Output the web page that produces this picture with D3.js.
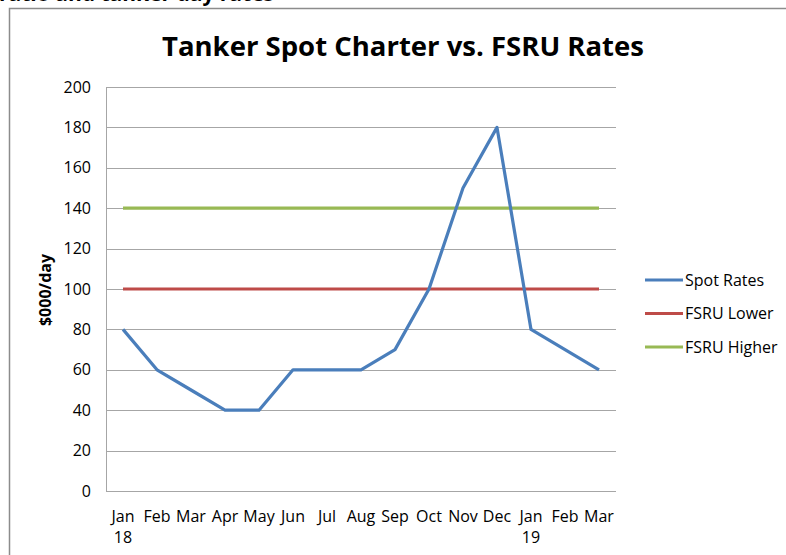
<!DOCTYPE html>
<html>
<head>
<meta charset="utf-8">
<script src="https://cdn.jsdelivr.net/npm/d3@7"></script>
<style>
  body { margin: 0; background: #fff; }
  svg { display: block; font-family: "Open Sans", sans-serif; }
</style>
</head>
<body>
<script>
var WIDTH = 786;
var HEIGHT = 555;

var months = ["Jan", "Feb", "Mar", "Apr", "May", "Jun", "Jul", "Aug", "Sep", "Oct", "Nov", "Dec", "Jan", "Feb", "Mar"];
var years = ["18", "", "", "", "", "", "", "", "", "", "", "", "19", "", ""];
var spotRates = [80, 60, 50, 40, 40, 60, 60, 60, 70, 100, 150, 180, 80, 70, 60];
var fsruLower = [100, 100, 100, 100, 100, 100, 100, 100, 100, 100, 100, 100, 100, 100, 100];
var fsruHigher = [140, 140, 140, 140, 140, 140, 140, 140, 140, 140, 140, 140, 140, 140, 140];
var yTicks = [0, 20, 40, 60, 80, 100, 120, 140, 160, 180, 200];

var series = [
  {name: "Spot Rates", values: spotRates, color: "#4a7ebb"},
  {name: "FSRU Lower", values: fsruLower, color: "#be4b48"},
  {name: "FSRU Higher", values: fsruHigher, color: "#98b954"}
];

var svg = d3.select("body")
  .append("svg")
  .attr("width", WIDTH)
  .attr("height", HEIGHT);

// caption above the frame, mostly cut off
svg.append("text")
  .attr("x", 274)
  .attr("y", 1)
  .attr("text-anchor", "end")
  .style("font-size", "21px")
  .style("font-weight", "bold")
  .text("FSRU lease ratio and tanker day rates");

// chart frame
svg.append("path")
  .attr("d", "M9.5," + HEIGHT + "V8.5H" + WIDTH)
  .attr("fill", "none")
  .attr("stroke", "#8c8c8c")
  .attr("stroke-width", 1.5);

var plot = {left: 106, top: 87, right: 616, bottom: 491};

var x = d3.scaleBand()
  .domain(d3.range(months.length))
  .range([plot.left, plot.right]);

var y = d3.scaleLinear()
  .domain([0, 200])
  .range([plot.bottom, plot.top]);

// gridlines
svg.append("g")
  .selectAll("line")
  .data(yTicks.filter(function (d) { return d > 0; }))
  .enter()
  .append("line")
  .attr("x1", plot.left)
  .attr("x2", plot.right)
  .attr("y1", function (d) { return Math.round(y(d)) + 0.5; })
  .attr("y2", function (d) { return Math.round(y(d)) + 0.5; })
  .attr("stroke", "#a6a6a6");

// axes lines
svg.append("line")
  .attr("x1", plot.left + 0.5).attr("x2", plot.left + 0.5)
  .attr("y1", plot.top).attr("y2", plot.bottom + 0.5)
  .attr("stroke", "#a6a6a6");
svg.append("line")
  .attr("x1", plot.left).attr("x2", plot.right)
  .attr("y1", plot.bottom + 0.5).attr("y2", plot.bottom + 0.5)
  .attr("stroke", "#a6a6a6");

// y tick labels
svg.append("g")
  .selectAll("text")
  .data(yTicks)
  .enter()
  .append("text")
  .attr("x", 91)
  .attr("y", function (d) { return y(d) + 5.5; })
  .attr("text-anchor", "end")
  .style("font-size", "16px")
  .attr("fill", "#000")
  .text(function (d) { return d; });

// x tick labels
svg.append("g")
  .selectAll("text")
  .data(months)
  .enter()
  .append("text")
  .attr("x", function (d, i) { return x(i) + x.bandwidth() / 2; })
  .attr("y", 522)
  .attr("text-anchor", "middle")
  .style("font-size", "16px")
  .text(function (d) { return d; });

svg.append("g")
  .selectAll("text")
  .data(years)
  .enter()
  .append("text")
  .attr("x", function (d, i) { return x(i) + x.bandwidth() / 2; })
  .attr("y", 543)
  .attr("text-anchor", "middle")
  .style("font-size", "16px")
  .text(function (d) { return d; });

// y axis title
svg.append("text")
  .attr("transform", "translate(51,290) rotate(-90)")
  .attr("text-anchor", "middle")
  .style("font-size", "16px")
  .style("font-weight", "bold")
  .text("$000/day");

// title
svg.append("text")
  .attr("x", 403)
  .attr("y", 56)
  .attr("text-anchor", "middle")
  .style("font-size", "27.5px")
  .style("font-weight", "bold")
  .text("Tanker Spot Charter vs. FSRU Rates");

// lines
var line = d3.line()
  .x(function (d, i) { return x(i) + x.bandwidth() / 2; })
  .y(function (d) { return y(d); });

svg.append("g")
  .selectAll("path")
  .data(series.slice().reverse())
  .enter()
  .append("path")
  .attr("d", function (d) { return line(d.values); })
  .attr("fill", "none")
  .attr("stroke", function (d) { return d.color; })
  .attr("stroke-width", 3.2)
  .attr("stroke-linejoin", "round");

// legend
var legend = svg.append("g")
  .selectAll("g")
  .data(series)
  .enter()
  .append("g")
  .attr("transform", function (d, i) { return "translate(645," + (280 + i * 33.5) + ")"; });

legend.append("line")
  .attr("x1", 0).attr("x2", 38)
  .attr("stroke", function (d) { return d.color; })
  .attr("stroke-width", 3.2);

legend.append("text")
  .attr("x", 40)
  .attr("y", 5.5)
  .style("font-size", "16px")
  .text(function (d) { return d.name; });
</script>
</body>
</html>
